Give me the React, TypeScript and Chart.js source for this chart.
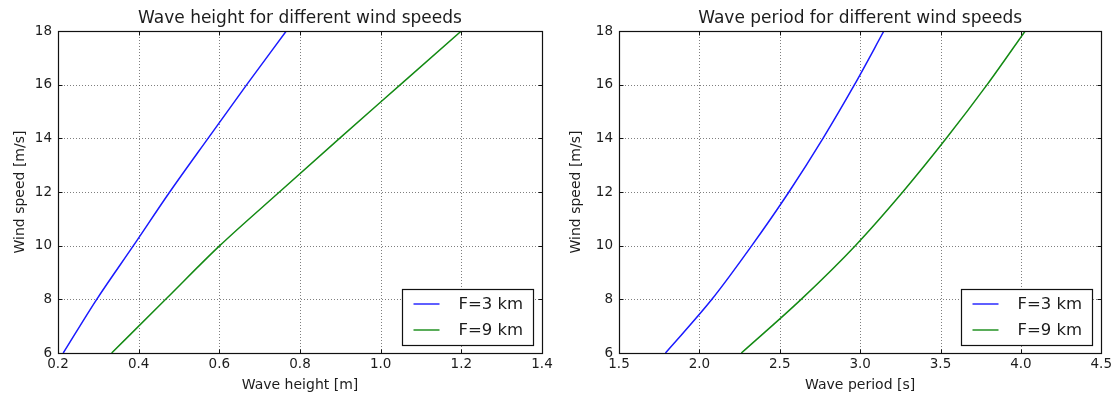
import React, { useEffect, useRef } from "react";
import { Chart, registerables } from "chart.js";

Chart.register(...registerables);

// ---- data ----
const windSpeeds = [6, 8, 10, 12, 14, 16, 18];
const heightF3 = [0.213, 0.296, 0.387, 0.477, 0.572, 0.668, 0.766];
const heightF9 = [0.333, 0.467, 0.601, 0.749, 0.898, 1.049, 1.2];
const periodF3 = [1.789, 2.078, 2.326, 2.557, 2.769, 2.965, 3.148];
const periodF9 = [2.261, 2.633, 2.97, 3.265, 3.536, 3.79, 4.027];

const heightTicks = [0.2, 0.4, 0.6, 0.8, 1.0, 1.2, 1.4];
const periodTicks = [1.5, 2.0, 2.5, 3.0, 3.5, 4.0, 4.5];
const windTicks = [6, 8, 10, 12, 14, 16, 18];

const seriesLabels = ["F=3 km", "F=9 km"];
const seriesColors = ["#1a1aff", "#138a13"];

const FONT = "'DejaVu Sans', sans-serif";
const TEXT = "#1c1c1c";

type Panel = {
  title: string;
  xLabel: string;
  yLabel: string;
  xTicks: number[];
  series: number[][];
  width: number;
  yAxisWidth: number;
  padRight: number;
  yTitlePad: number;
};

function panelPlugin(p: Panel) {
  return {
    id: "panelDeco",
    beforeDatasetsDraw(chart: any) {
      const { ctx, chartArea: a, scales } = chart;
      ctx.save();
      ctx.strokeStyle = "rgba(0,0,0,0.5)";
      ctx.lineWidth = 1;
      ctx.setLineDash([1, 2]);
      p.xTicks.forEach((v) => {
        const x = Math.round(scales.x.getPixelForValue(v)) + 0.5;
        ctx.beginPath();
        ctx.moveTo(x, a.top);
        ctx.lineTo(x, a.bottom);
        ctx.stroke();
      });
      windTicks.forEach((v) => {
        const y = Math.round(scales.y.getPixelForValue(v)) + 0.5;
        ctx.beginPath();
        ctx.moveTo(a.left, y);
        ctx.lineTo(a.right, y);
        ctx.stroke();
      });
      ctx.restore();
    },
    afterDraw(chart: any) {
      const { ctx, chartArea: a, scales } = chart;
      ctx.save();
      // frame
      ctx.strokeStyle = "#111";
      ctx.lineWidth = 1.2;
      ctx.setLineDash([]);
      const L = Math.round(a.left) + 0.5;
      const R = Math.round(a.right) + 0.5;
      const T = Math.round(a.top) + 0.5;
      const B = Math.round(a.bottom) + 0.5;
      ctx.strokeRect(L, T, R - L, B - T);
      // inward ticks
      ctx.lineWidth = 1;
      const tl = 4;
      p.xTicks.forEach((v) => {
        const x = Math.round(scales.x.getPixelForValue(v)) + 0.5;
        ctx.beginPath();
        ctx.moveTo(x, B);
        ctx.lineTo(x, B - tl);
        ctx.moveTo(x, T);
        ctx.lineTo(x, T + tl);
        ctx.stroke();
      });
      windTicks.forEach((v) => {
        const y = Math.round(scales.y.getPixelForValue(v)) + 0.5;
        ctx.beginPath();
        ctx.moveTo(L, y);
        ctx.lineTo(L + tl, y);
        ctx.moveTo(R, y);
        ctx.lineTo(R - tl, y);
        ctx.stroke();
      });
      // legend
      const bw = 131;
      const bh = 56;
      const bx = Math.round(a.right) - 9 - bw + 0.5;
      const by = Math.round(a.bottom) - 8 - bh + 0.5;
      ctx.fillStyle = "#fff";
      ctx.fillRect(bx, by, bw, bh);
      ctx.lineWidth = 1.2;
      ctx.strokeStyle = "#111";
      ctx.strokeRect(bx, by, bw, bh);
      ctx.font = `16.5px ${FONT}`;
      ctx.textBaseline = "middle";
      ctx.textAlign = "left";
      seriesLabels.forEach((lab, i) => {
        const ry = by + 14.5 + i * 26;
        ctx.strokeStyle = seriesColors[i];
        ctx.lineWidth = 1.4;
        ctx.beginPath();
        ctx.moveTo(bx + 11, ry);
        ctx.lineTo(bx + 37, ry);
        ctx.stroke();
        ctx.fillStyle = TEXT;
        ctx.fillText(lab, bx + 56, ry + 1);
      });
      // title
      ctx.font = `17px ${FONT}`;
      ctx.textAlign = "center";
      ctx.textBaseline = "middle";
      ctx.fillStyle = TEXT;
      ctx.fillText(p.title, (a.left + a.right) / 2, 18.5);
      ctx.restore();
    },
  };
}

function PanelChart({ p }: { p: Panel }) {
  const ref = useRef<HTMLCanvasElement | null>(null);
  useEffect(() => {
    if (!ref.current) return;
    const tickFont = { family: FONT, size: 13.5 };
    const labelFont = { family: FONT, size: 14 };
    const chart = new Chart(ref.current, {
      type: "line",
      data: {
        datasets: p.series.map((s, i) => ({
          label: seriesLabels[i],
          data: windSpeeds.map((w, j) => ({ x: s[j], y: w })),
          borderColor: seriesColors[i],
          backgroundColor: seriesColors[i],
          borderWidth: 1.5,
          pointRadius: 0,
          fill: false,
          cubicInterpolationMode: "monotone" as const,
        })),
      },
      options: {
        animation: false,
        responsive: false,
        maintainAspectRatio: false,
        layout: { padding: { top: 31, right: p.padRight, bottom: 0, left: 0 } },
        plugins: { legend: { display: false }, title: { display: false }, tooltip: { enabled: false } },
        scales: {
          x: {
            type: "linear",
            min: p.xTicks[0],
            max: p.xTicks[p.xTicks.length - 1],
            afterBuildTicks: (ax: any) => {
              ax.ticks = p.xTicks.map((v) => ({ value: v }));
            },
            afterFit: (ax: any) => {
              ax.height = 44;
            },
            ticks: {
              callback: (v: any) => Number(v).toFixed(1),
              font: tickFont,
              color: TEXT,
              padding: 3,
              maxRotation: 0,
              autoSkip: false,
            },
            grid: { display: false, drawTicks: false },
            border: { display: false },
            title: { display: true, text: p.xLabel, font: labelFont, color: TEXT, padding: { top: 0, bottom: 3 } },
          },
          y: {
            type: "linear",
            min: 6,
            max: 18,
            afterBuildTicks: (ax: any) => {
              ax.ticks = windTicks.map((v) => ({ value: v }));
            },
            afterFit: (ax: any) => {
              ax.width = p.yAxisWidth;
            },
            ticks: { callback: (v: any) => String(v), font: tickFont, color: TEXT, padding: 6, autoSkip: false },
            grid: { display: false, drawTicks: false },
            border: { display: false },
            title: { display: true, text: p.yLabel, font: labelFont, color: TEXT, padding: { top: p.yTitlePad, bottom: 0 } },
          },
        },
      },
      plugins: [panelPlugin(p)],
    } as any);
    return () => chart.destroy();
  }, [p]);
  return <canvas ref={ref} width={p.width} height={397} style={{ display: "block" }} />;
}

const leftPanel: Panel = {
  title: "Wave height for different wind speeds",
  xLabel: "Wave height [m]",
  yLabel: "Wind speed [m/s]",
  xTicks: heightTicks,
  series: [heightF3, heightF9],
  width: 560,
  yAxisWidth: 58,
  padRight: 18,
  yTitlePad: 11.6,
};

const rightPanel: Panel = {
  title: "Wave period for different wind speeds",
  xLabel: "Wave period [s]",
  yLabel: "Wind speed [m/s]",
  xTicks: periodTicks,
  series: [periodF3, periodF9],
  width: 555,
  yAxisWidth: 59,
  padRight: 13,
  yTitlePad: 7.6,
};

export default function App() {
  return (
    <div
      style={{
        position: "fixed",
        left: 0,
        top: 0,
        width: 1115,
        height: 397,
        background: "#fff",
        display: "flex",
        flexDirection: "row",
      }}
    >
      <PanelChart p={leftPanel} />
      <PanelChart p={rightPanel} />
    </div>
  );
}
